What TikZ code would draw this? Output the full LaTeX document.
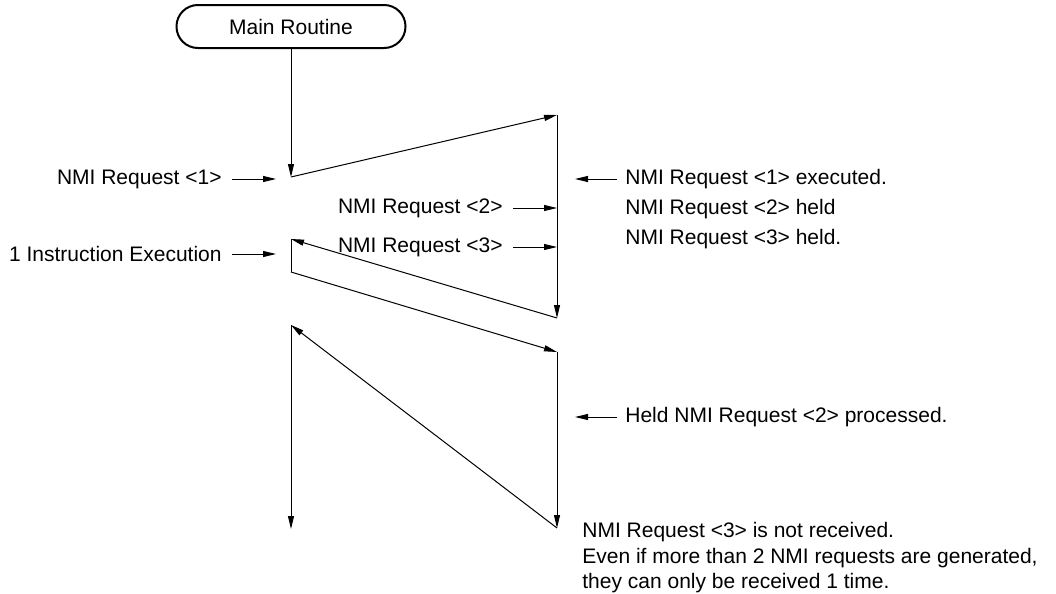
\documentclass[tikz,border=0pt]{standalone}
\usepackage{fontspec}
\setmainfont{Liberation Sans}
\usetikzlibrary{arrows.meta}

\begin{document}
\begin{tikzpicture}[x=0.5pt, y=-0.5pt, font=\fontsize{10.5}{15}\selectfont,
  wire/.style={line width=0.5pt},
  flow/.style={wire, -{Triangle[length=6.5pt,width=3pt]}},
  lbl/.style={inner sep=5pt}]
\useasboundingbox (0,0) rectangle (1056,594);

\node[draw, line width=1pt, rounded corners=10.7pt, minimum width=114.5pt, minimum height=21.5pt] (main) at (291,26.5) {Main Routine};

% turning points of the program flow
\coordinate (p1) at (291,177);
\coordinate (p2) at (557,115);
\coordinate (p3) at (557,318);
\coordinate (p4) at (291,239);
\coordinate (p5) at (291,272);
\coordinate (p6) at (557,352);
\coordinate (p7) at (557,528);
\coordinate (p8) at (291,325);
\coordinate (p9) at (291,529);

\draw[flow] (main.south) -- (p1);
\draw[flow] (p1) -- (p2);
\draw[flow] (p2) -- (p3);
\draw[flow] (p3) -- (p4);
\draw[wire] (p4) -- (p5);
\draw[flow] (p5) -- (p6);
\draw[flow] (p6) -- (p7);
\draw[flow] (p7) -- (p8);
\draw[flow] (p8) -- (p9);

% requests coming in
\node[anchor=east, lbl] (req1) at (232,179) {NMI Request <1>};
\coordinate (t1) at (276,179);
\draw[flow] (req1) -- (t1);
\node[anchor=east, lbl] (instr) at (232,254) {1 Instruction Execution};
\coordinate (t2) at (276,254);
\draw[flow] (instr) -- (t2);
\node[anchor=east, lbl] (req2) at (513,208) {NMI Request <2>};
\draw[flow] (req2) -- (req2 -| p2);
\node[anchor=east, lbl] (req3) at (513,247) {NMI Request <3>};
\draw[flow] (req3) -- (req3 -| p2);

% notes on the right
\node[anchor=west, align=left, inner sep=4pt] (exec) at (617,209) {NMI Request <1> executed.\\NMI Request <2> held\\NMI Request <3> held.};
\coordinate (r1) at (575,179);
\draw[flow] (exec.west |- r1) -- (r1);
\node[anchor=west, inner sep=4pt] (held) at (617,417) {Held NMI Request <2> processed.};
\coordinate (r2) at (575,417);
\draw[flow] (held) -- (r2);
\node[anchor=north west, align=left, inner sep=4pt, font=\fontsize{10.5}{12.75}\selectfont] (lost) at (574,514) {NMI Request <3> is not received.\\Even if more than 2 NMI requests are generated,\\they can only be received 1 time.};

\end{tikzpicture}
\end{document}
